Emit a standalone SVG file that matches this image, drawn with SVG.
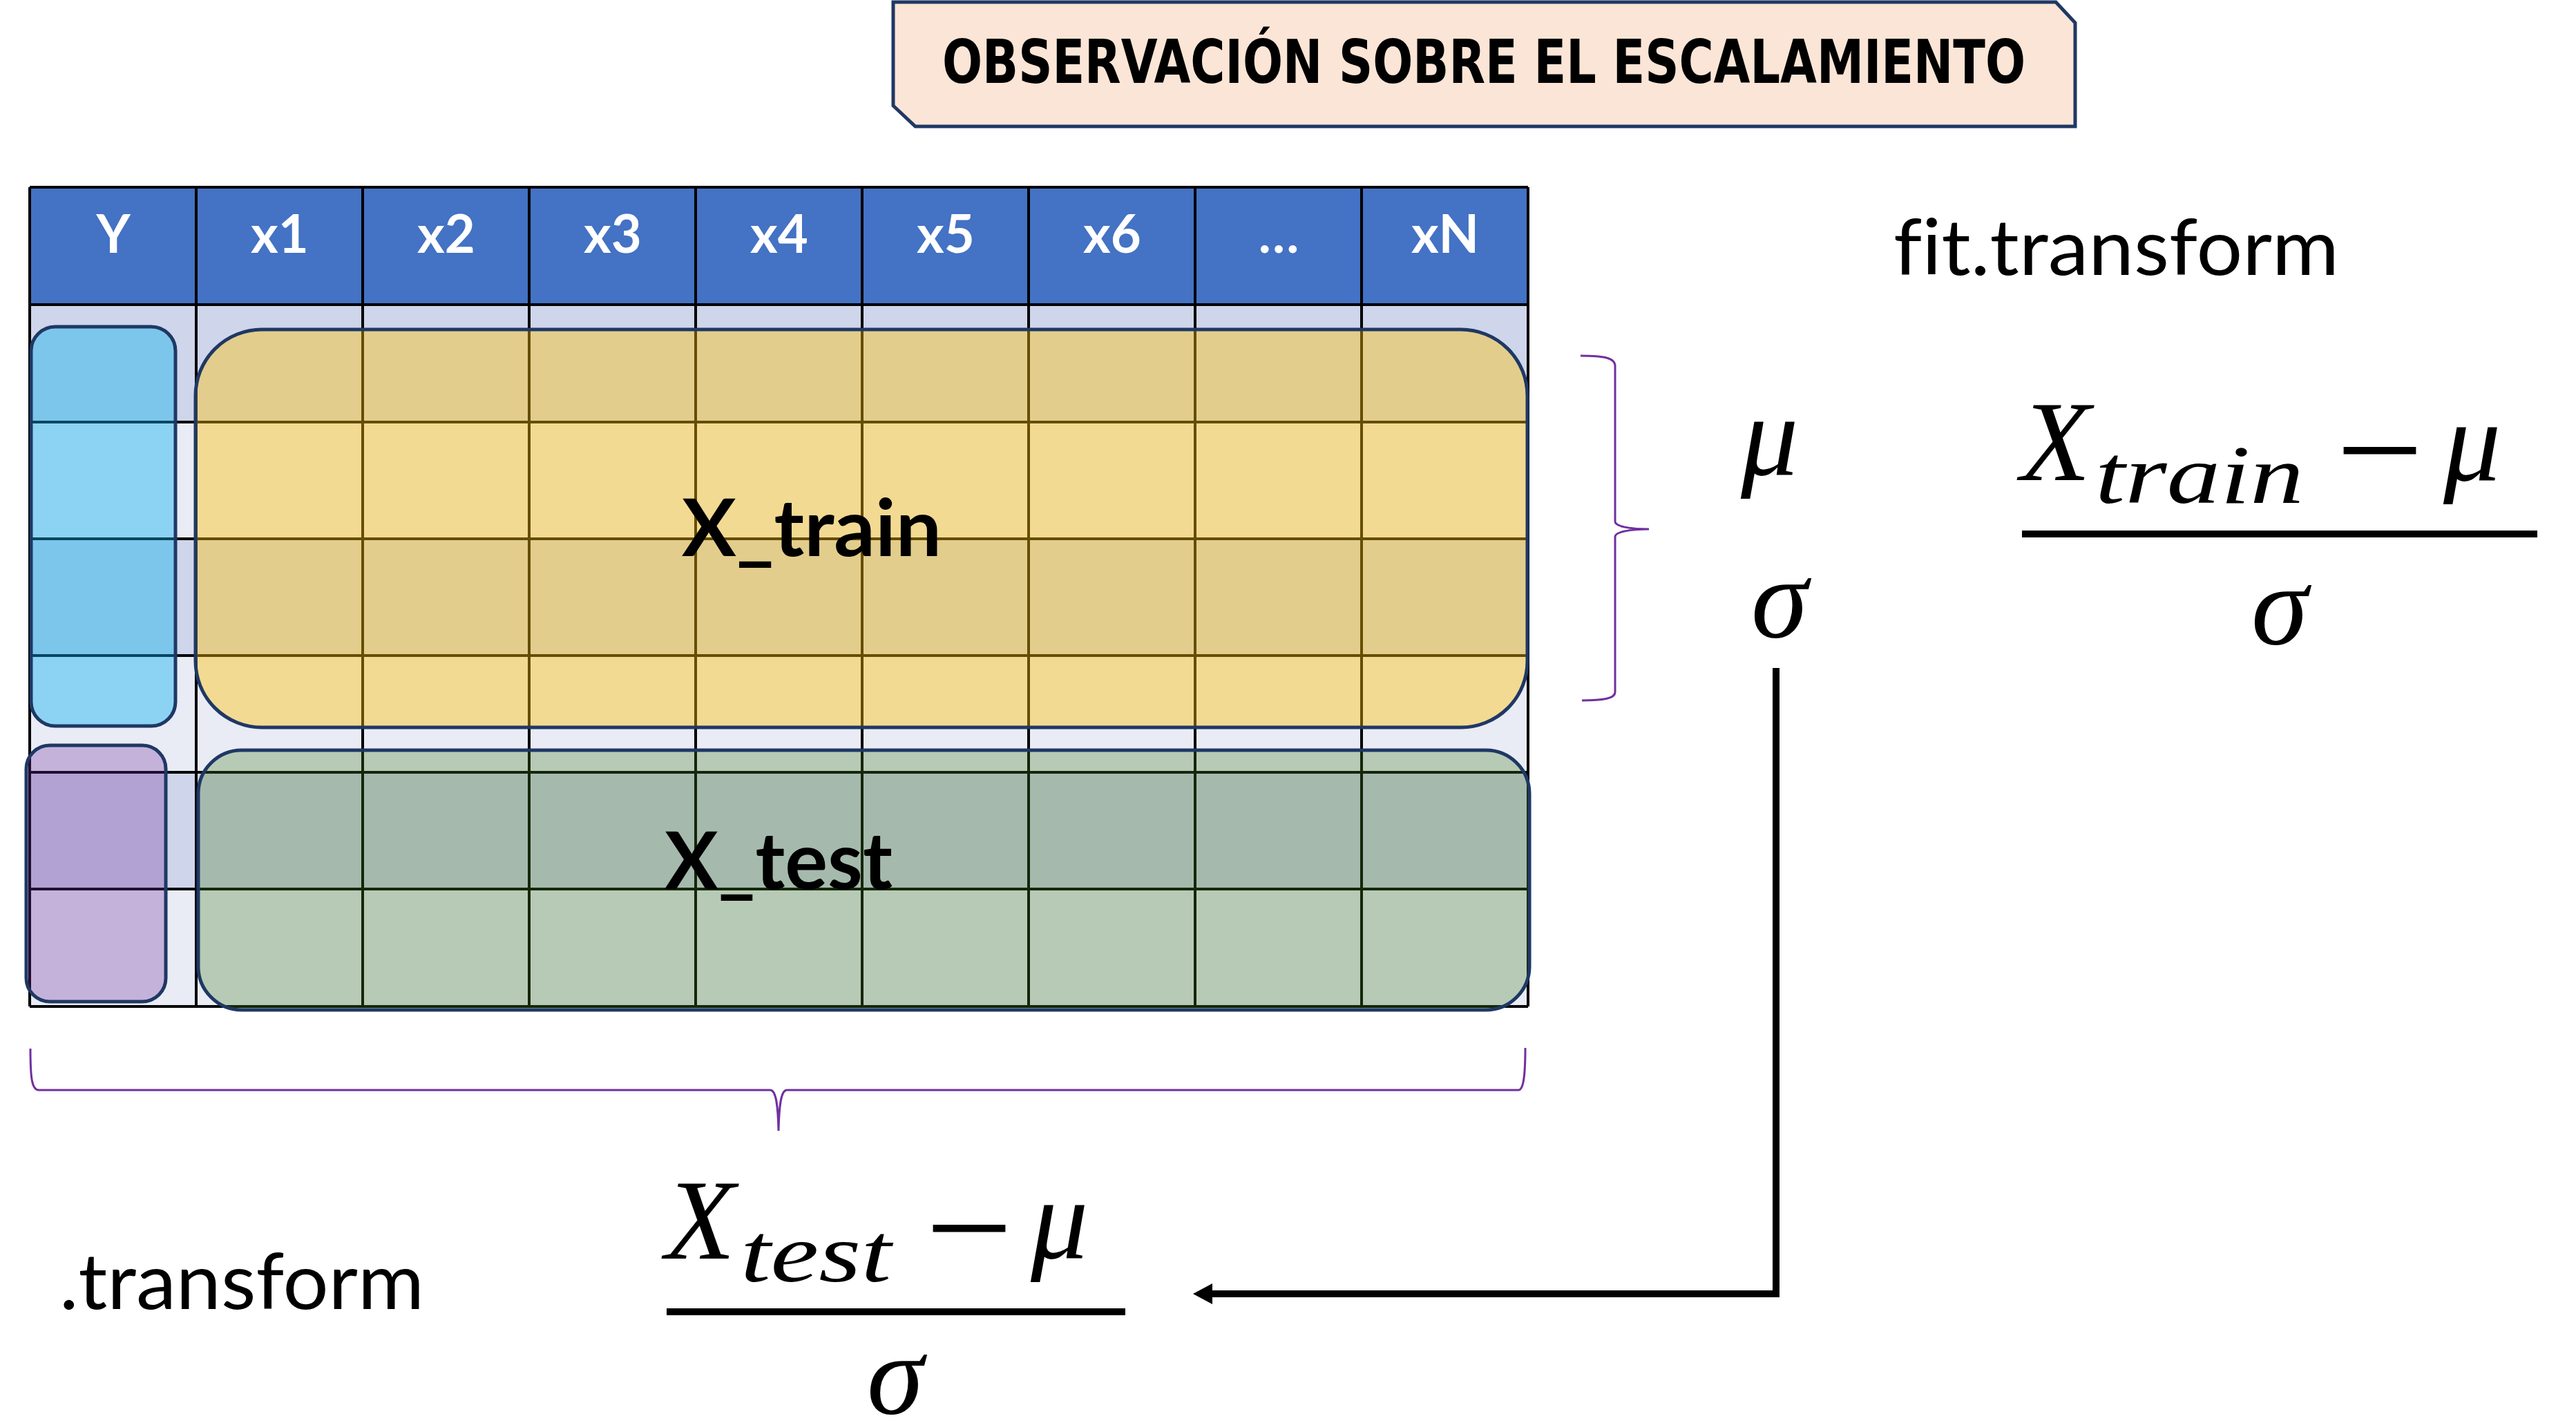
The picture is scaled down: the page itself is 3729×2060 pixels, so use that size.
<svg xmlns="http://www.w3.org/2000/svg" width="3729" height="2060" viewBox="0 0 3729 2060">
  <defs>
    <style>
      .hdr { font-family: Lato, "Liberation Sans", sans-serif; font-weight: 700; font-size: 76px; fill: #ffffff; text-anchor: middle; }
      .grid { stroke: #000000; stroke-width: 4; fill: none; }
      .band-dark { fill: #CFD5EA; }
      .band-light { fill: #E9EBF5; }
      .overlay { stroke: #1F3864; stroke-width: 5; }
      .label { font-family: Lato, "Liberation Sans", sans-serif; font-weight: 700; font-size: 114px; fill: #000000; }
      .plain { font-family: Lato, "Liberation Sans", sans-serif; font-weight: 400; font-size: 112px; fill: #000000; font-variant-ligatures: none; }
      .m { font-family: "Liberation Serif", "DejaVu Serif", serif; font-style: italic; font-size: 166px; fill: #000000; }
      .ms { font-family: "Liberation Serif", "DejaVu Serif", serif; font-style: italic; font-size: 121px; fill: #000000; }
      .op { font-family: "Liberation Serif", "DejaVu Serif", serif; font-size: 210px; fill: #000000; text-anchor: middle; }
      .bar { stroke: #000000; stroke-width: 10; }
      .brace { stroke: #7030A0; stroke-width: 3; fill: none; }
      .title { font-family: "DejaVu Sans Condensed", "DejaVu Sans", sans-serif; font-stretch: condensed; font-weight: 700; font-size: 88px; fill: #000000; }
    </style>
    <marker id="arrowhead" markerUnits="userSpaceOnUse" viewBox="0 0 28 30" markerWidth="28" markerHeight="30" refX="10" refY="15" orient="auto">
      <path d="M0,0 L28,15 L0,30 Z" fill="#000000"/>
    </marker>
  </defs>

  <rect x="0" y="0" width="3729" height="2060" fill="#ffffff"/>

  <!-- title banner with snipped corners -->
  <g id="title">
    <path d="M1293,3 H2976 L3004,33 V183 H1325 L1293,153 Z" fill="#FBE5D6" stroke="#1F3864" stroke-width="5"/>
    <text class="title" x="1364" y="120" textLength="1568" lengthAdjust="spacingAndGlyphs">OBSERVACIÓN SOBRE EL ESCALAMIENTO</text>
  </g>

  <!-- data table: header + 6 banded rows -->
  <g id="table">
    <rect x="43" y="271" width="2169" height="170" fill="#4472C4"/>
    <rect class="band-dark" x="43" y="441" width="2169" height="170"/>
    <rect class="band-light" x="43" y="611" width="2169" height="169"/>
    <rect class="band-dark" x="43" y="780" width="2169" height="169"/>
    <rect class="band-light" x="43" y="949" width="2169" height="169"/>
    <rect class="band-dark" x="43" y="1118" width="2169" height="169"/>
    <rect class="band-light" x="43" y="1287" width="2169" height="170"/>
    <path class="grid" d="M43,271 H2212 M43,441 H2212 M43,611 H2212 M43,780 H2212 M43,949 H2212 M43,1118 H2212 M43,1287 H2212 M43,1457 H2212"/>
    <path class="grid" d="M43,271 V1457 M284,271 V1457 M525,271 V1457 M766,271 V1457 M1007,271 V1457 M1248,271 V1457 M1489,271 V1457 M1730,271 V1457 M1971,271 V1457 M2212,271 V1457"/>
    <text class="hdr" x="164" y="366">Y</text>
    <text class="hdr" x="405" y="366">x1</text>
    <text class="hdr" x="646" y="366">x2</text>
    <text class="hdr" x="887" y="366">x3</text>
    <text class="hdr" x="1128" y="366">x4</text>
    <text class="hdr" x="1369" y="366">x5</text>
    <text class="hdr" x="1610" y="366">x6</text>
    <text class="hdr" x="1851" y="366">…</text>
    <text class="hdr" x="2092" y="366">xN</text>
  </g>

  <!-- training split -->
  <g id="y-train">
    <rect class="overlay" x="45" y="473" width="209" height="578" rx="35" fill="rgba(0,176,240,0.4)"/>
  </g>
  <g id="x-train">
    <rect class="overlay" x="283" y="477" width="1928" height="576" rx="96" fill="rgba(255,192,0,0.4)"/>
    <text class="label" x="987" y="805" textLength="376" lengthAdjust="spacingAndGlyphs">X_train</text>
  </g>

  <!-- test split -->
  <g id="y-test">
    <rect class="overlay" x="38" y="1079" width="202" height="371" rx="34" fill="rgba(112,48,160,0.3)"/>
  </g>
  <g id="x-test">
    <rect class="overlay" x="287" y="1086" width="1927" height="376" rx="63" fill="rgba(70,125,32,0.3)"/>
    <text class="label" x="962" y="1287" textLength="330" lengthAdjust="spacingAndGlyphs">X_test</text>
  </g>

  <!-- braces -->
  <g id="braces">
    <path class="brace" d="M2288,515 C2322,515 2338,518 2338,530 V755 C2338,762 2360,766 2387,766 C2360,766 2338,770 2338,777 V1002 C2338,1011 2322,1014 2290,1014"/>
    <path class="brace" d="M44,1518 C44,1560 46,1578 56,1578 H1115 C1122,1578 1126,1592 1127,1637 C1128,1592 1132,1578 1139,1578 H2198 C2205,1578 2208,1560 2208,1517"/>
  </g>

  <!-- labels -->
  <g id="fit-transform">
    <text class="plain" x="2741" y="398" textLength="645" lengthAdjust="spacingAndGlyphs">fit.transform</text>
  </g>
  <g id="transform">
    <text class="plain" x="86" y="1895" textLength="528" lengthAdjust="spacingAndGlyphs">.transform</text>
  </g>

  <!-- fitted statistics -->
  <g id="stats">
    <text class="m" x="2520" y="687">μ</text>
    <text class="m" x="2576" y="922" text-anchor="middle">σ</text>
  </g>

  <!-- training standardisation -->
  <g id="formula-train">
    <text class="m" x="2925" y="695">X</text>
    <text class="ms" x="3033" y="728" textLength="302" lengthAdjust="spacingAndGlyphs">train</text>
    <text class="op" x="3445" y="722" textLength="127" lengthAdjust="spacingAndGlyphs">−</text>
    <text class="m" x="3537" y="695">μ</text>
    <line class="bar" x1="2927" y1="773" x2="3673" y2="773"/>
    <text class="m" x="3300" y="932" text-anchor="middle">σ</text>
  </g>

  <!-- test standardisation -->
  <g id="formula-test">
    <text class="m" x="963" y="1822">X</text>
    <text class="ms" x="1072" y="1855" textLength="218" lengthAdjust="spacingAndGlyphs">test</text>
    <text class="op" x="1403" y="1848" textLength="127" lengthAdjust="spacingAndGlyphs">−</text>
    <text class="m" x="1492" y="1821">μ</text>
    <line class="bar" x1="965" y1="1899" x2="1629" y2="1899"/>
    <text class="m" x="1296" y="2046" text-anchor="middle">σ</text>
  </g>

  <!-- connectors -->
  <g id="connectors">
    <path d="M2571,967 V1873 H1745" fill="none" stroke="#000000" stroke-width="10" marker-end="url(#arrowhead)"/>
  </g>
</svg>
